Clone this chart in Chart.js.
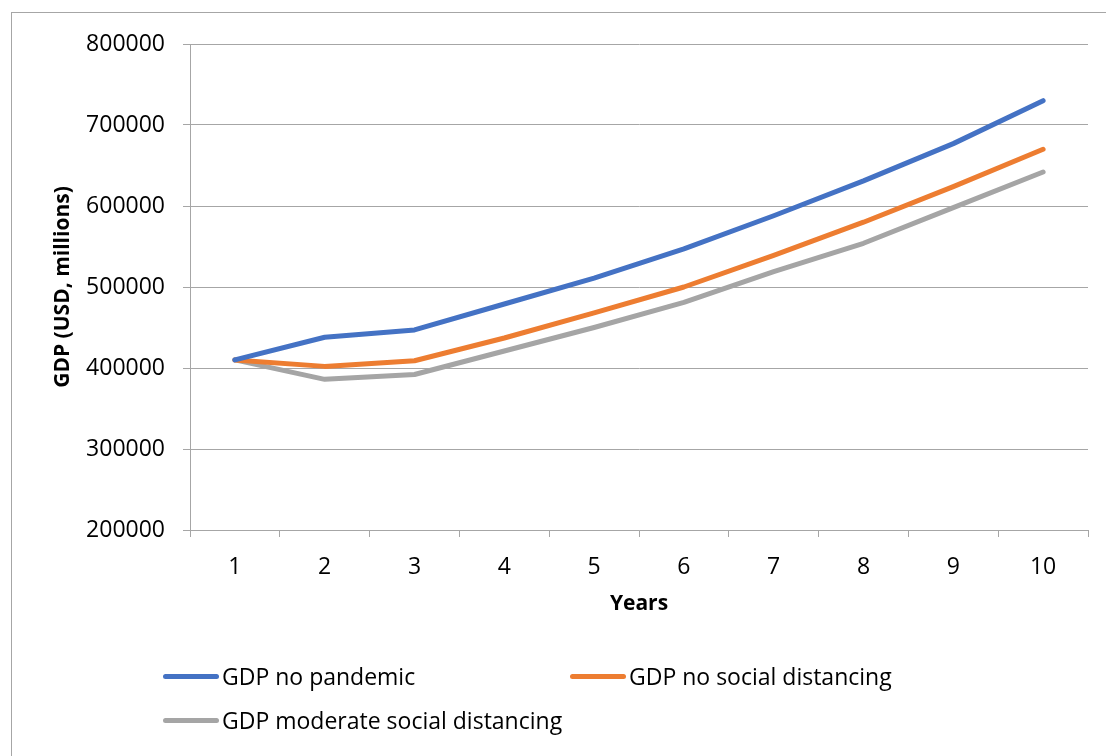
<!DOCTYPE html>
<html>
<head>
<meta charset="utf-8">
<title>GDP projections</title>
<script src="https://cdn.jsdelivr.net/npm/chart.js@4/dist/chart.umd.min.js"></script>
<style>
  html, body { margin: 0; padding: 0; background: #fff; }
  #wrap { position: relative; width: 1106px; height: 756px; overflow: hidden; }
  #frame { position: absolute; left: 11px; top: 12px; width: 1200px; height: 800px; border: 1px solid #a6a6a6; box-sizing: border-box; }
  #gdpChart { position: absolute; left: 0; top: 0; }
  #legend { position: absolute; left: 163px; top: 662px; display: grid; grid-template-columns: 407px auto; row-gap: 16px;
            font-family: "Open Sans", sans-serif; font-size: 23px; color: #000; }
  .item { display: flex; align-items: center; height: 28px; white-space: nowrap; }
  .swatch { display: inline-block; width: 56px; height: 5px; border-radius: 3px; margin-right: 3px; }
</style>
</head>
<body>
<div id="wrap">
  <div id="frame"></div>
  <canvas id="gdpChart" width="1106" height="756"></canvas>
  <div id="legend"></div>
</div>
<script>
var years = ["1", "2", "3", "4", "5", "6", "7", "8", "9", "10"];
var noPandemic = [410000, 438000, 447000, 479000, 511000, 547000, 588000, 631000, 677000, 730000];
var noDistancing = [410000, 402000, 409000, 437000, 468000, 500000, 539000, 580000, 624000, 670000];
var moderateDistancing = [410000, 386000, 392000, 421000, 450000, 481000, 519000, 554000, 598000, 642000];
var yTicks = [200000, 300000, 400000, 500000, 600000, 700000, 800000];

var gridColor = "#a6a6a6";
var font = { family: "'Open Sans', sans-serif", size: 23 };

function series(label, data, color) {
    return {
        label: label,
        data: data,
        borderColor: color,
        backgroundColor: color,
        borderWidth: 5,
        borderCapStyle: "round",
        borderJoinStyle: "round",
        pointRadius: 0,
        tension: 0
    };
}

var chart = new Chart(document.getElementById("gdpChart"), {
    type: "line",
    data: {
        labels: years,
        datasets: [
            series("GDP no pandemic", noPandemic, "#4472c4"),
            series("GDP no social distancing", noDistancing, "#ed7d31"),
            series("GDP moderate social distancing", moderateDistancing, "#a5a5a5")
        ]
    },
    options: {
        responsive: false,
        animation: false,
        devicePixelRatio: 1,
        layout: { padding: { left: 50, top: 44, right: 18, bottom: 139 } },
        plugins: {
            legend: { display: false },
            tooltip: { enabled: false }
        },
        scales: {
            x: {
                offset: true,
                grid: { offset: true, drawOnChartArea: false, tickLength: 7, color: gridColor },
                border: { color: gridColor, width: 1 },
                ticks: { color: "#000", font: font, padding: 17, maxRotation: 0 },
                title: { display: true, text: "Years", color: "#000", padding: 0,
                         font: { family: font.family, size: 21, weight: "bold" } },
                afterFit: function (scale) { scale.height = 87; }
            },
            y: {
                min: 200000,
                max: 800000,
                afterBuildTicks: function (scale) {
                    scale.ticks = yTicks.map(function (v) { return { value: v }; });
                },
                grid: { color: gridColor, tickLength: 7 },
                border: { color: gridColor, width: 1 },
                ticks: {
                    color: "#000", font: font, padding: 18,
                    callback: function (v) { return String(v); }
                },
                title: { display: true, text: "GDP (USD, millions)", color: "#000", padding: 0,
                         font: { family: font.family, size: 21, weight: "bold" } },
                afterFit: function (scale) { scale.width = 140; }
            }
        }
    }
});

// legend laid out in two columns under the plot
var legend = document.getElementById("legend");
chart.data.datasets.forEach(function (ds) {
    var item = document.createElement("div");
    item.className = "item";
    var sw = document.createElement("span");
    sw.className = "swatch";
    sw.style.background = ds.borderColor;
    item.appendChild(sw);
    item.appendChild(document.createTextNode(ds.label));
    legend.appendChild(item);
});
</script>
</body>
</html>
